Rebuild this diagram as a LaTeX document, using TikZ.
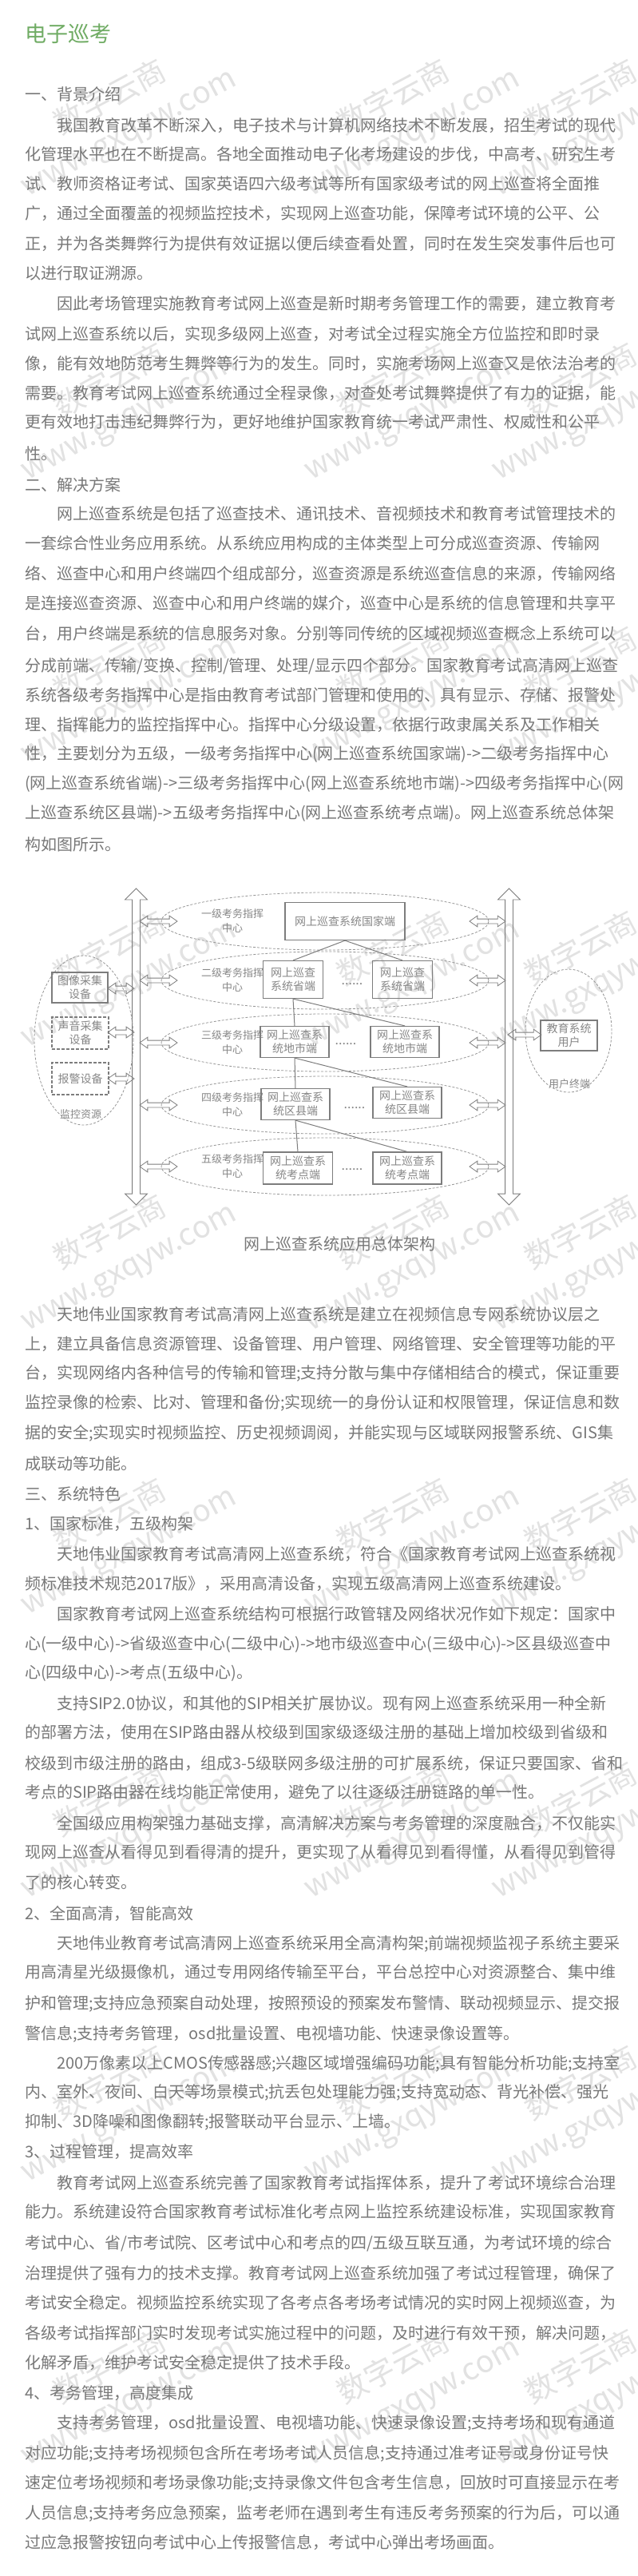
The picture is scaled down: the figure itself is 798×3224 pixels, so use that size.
\documentclass[tikz,border=0pt]{standalone}
\usepackage{fontspec}
\setmainfont{Noto Sans CJK SC}
\usepackage{xcolor}
\usepackage{tikz}
\usetikzlibrary{shapes,positioning,calc,arrows.meta}

\definecolor{txtgray}{RGB}{120,120,120}
\definecolor{titlegreen}{RGB}{112,172,100}
\definecolor{linegray}{RGB}{125,125,125}
\definecolor{ringgray}{RGB}{150,150,150}
\definecolor{boxtext}{RGB}{135,135,135}
\definecolor{markgray}{RGB}{226,226,226}

\tikzset{
  body/.style={anchor=west, inner sep=0pt, text=txtgray, font=\fontsize{20}{24}\selectfont, text height=17.6pt, text depth=2.4pt},
  head/.style={body, text=titlegreen, font=\fontsize{27}{30}\selectfont, text height=23.8pt, text depth=3.2pt},
  box/.style={draw=linegray, line width=1.2pt, inner sep=0pt, align=center, text=boxtext, font=\fontsize{14}{17}\selectfont},
  dbox/.style={box, dash pattern=on 4pt off 2pt},
  ring/.style={draw=ringgray, dash pattern=on 3pt off 2pt, line width=0.8pt, ellipse, inner sep=0pt},
  wire/.style={draw=linegray, line width=1pt},
  lbl/.style={inner sep=0pt, align=center, text=boxtext, font=\fontsize{13}{18}\selectfont},
  bus/.style={double arrow, draw=linegray, line width=0.8pt, inner xsep=0pt, inner ysep=4.5pt, double arrow head extend=9pt, double arrow tip angle=90, rotate=90},
  link/.style={double arrow, draw=linegray, line width=0.8pt, inner xsep=0pt, inner ysep=2.5pt, double arrow head extend=4pt, double arrow tip angle=70},
  wmark/.style={rotate=28, align=center, text=markgray, font=\fontsize{38}{48}\selectfont, inner sep=0pt}
}

\begin{document}
\begin{tikzpicture}[x=1pt,y=1pt]
  \fill[white] (0,0) rectangle (798,-3224);
  \useasboundingbox (0,0) rectangle (798,-3224);

  % watermark
  \foreach \wx in {150,505,740}
    \foreach \wy in {145,500,855,1210,1565,1920,2275,2630,2985}
      \node[wmark] (wm\wx\wy) at (\wx,-\wy) {数字云商\\www.gxqyw.com};

  % 一、背景介绍
  \node[head] (title) at (31,-42) {电子巡考};
  \node[body] (t2) at (31,-118) {一、背景介绍};
  \node[body] (t3) at (71,-157) {我国教育改革不断深入，电子技术与计算机网络技术不断发展，招生考试的现代};
  \node[body] (t4) at (31,-193) {化管理水平也在不断提高。各地全面推动电子化考场建设的步伐，中高考、研究生考};
  \node[body] (t5) at (31,-230) {试、教师资格证考试、国家英语四六级考试等所有国家级考试的网上巡查将全面推};
  \node[body] (t6) at (31,-267) {广，通过全面覆盖的视频监控技术，实现网上巡查功能，保障考试环境的公平、公};
  \node[body] (t7) at (31,-305) {正，并为各类舞弊行为提供有效证据以便后续查看处置，同时在发生突发事件后也可};
  \node[body] (t8) at (31,-342) {以进行取证溯源。};
  \node[body] (t9) at (71,-380) {因此考场管理实施教育考试网上巡查是新时期考务管理工作的需要，建立教育考};
  \node[body] (t10) at (31,-418) {试网上巡查系统以后，实现多级网上巡查，对考试全过程实施全方位监控和即时录};
  \node[body] (t11) at (31,-455) {像，能有效地防范考生舞弊等行为的发生。同时，实施考场网上巡查又是依法治考的};
  \node[body] (t12) at (31,-492) {需要。教育考试网上巡查系统通过全程录像，对查处考试舞弊提供了有力的证据，能};
  \node[body] (t13) at (31,-528) {更有效地打击违纪舞弊行为，更好地维护国家教育统一考试严肃性、权威性和公平};
  \node[body] (t14) at (31,-568) {性。};

  % 二、解决方案
  \node[body] (t15) at (31,-607) {二、解决方案};
  \node[body] (t16) at (71,-643) {网上巡查系统是包括了巡查技术、通讯技术、音视频技术和教育考试管理技术的};
  \node[body] (t17) at (31,-680) {一套综合性业务应用系统。从系统应用构成的主体类型上可分成巡查资源、传输网};
  \node[body] (t18) at (31,-718) {络、巡查中心和用户终端四个组成部分，巡查资源是系统巡查信息的来源，传输网络};
  \node[body] (t19) at (31,-755) {是连接巡查资源、巡查中心和用户终端的媒介，巡查中心是系统的信息管理和共享平};
  \node[body] (t20) at (31,-793) {台，用户终端是系统的信息服务对象。分别等同传统的区域视频巡查概念上系统可以};
  \node[body] (t21) at (31,-833) {分成前端、传输/变换、控制/管理、处理/显示四个部分。国家教育考试高清网上巡查};
  \node[body] (t22) at (31,-870) {系统各级考务指挥中心是指由教育考试部门管理和使用的、具有显示、存储、报警处};
  \node[body] (t23) at (31,-907) {理、指挥能力的监控指挥中心。指挥中心分级设置，依据行政隶属关系及工作相关};
  \node[body] (t24) at (31,-943) {性，主要划分为五级，一级考务指挥中心(网上巡查系统国家端)->二级考务指挥中心};
  \node[body] (t25) at (31,-980) {(网上巡查系统省端)->三级考务指挥中心(网上巡查系统地市端)->四级考务指挥中心(网};
  \node[body] (t26) at (31,-1017) {上巡查系统区县端)->五级考务指挥中心(网上巡查系统考点端)。网上巡查系统总体架};
  \node[body] (t27) at (31,-1057) {构如图所示。};

  % 总体架构图
  \node[bus, minimum height=396] (busL) at (170.5,-1310) {};
  \node[bus, minimum height=396] (busR) at (637.5,-1310) {};
  \foreach \i/\y/\n in {1/1153/一,2/1227/二,3/1305/三,4/1383/四,5/1460/五}{
    \node[ring, minimum width=410, minimum height=72] (lv\i) at (407,-\y) {};
    \node[lbl] (cmd\i) at (291,-\y) {\n{}级考务指挥\\中心};
    \node[link, minimum height=47] (ar\i) at (198.5,-\y) {};
    \node[link, minimum height=45] (ay\i) at (610.5,-\y) {};
  }
  \node[box, minimum width=150, minimum height=47] (nat) at (432,-1153) {网上巡查系统国家端};
  \node[box, minimum width=75, minimum height=47] (p1) at (367,-1226) {网上巡查\\系统省端};
  \node[box, minimum width=75, minimum height=47] (p2) at (504,-1226) {网上巡查\\系统省端};
  \node[box, minimum width=86, minimum height=39] (c1) at (369,-1304) {网上巡查系\\统地市端};
  \node[box, minimum width=86, minimum height=39] (c2) at (507,-1304) {网上巡查系\\统地市端};
  \node[box, minimum width=86, minimum height=39] (d1) at (370,-1382) {网上巡查系\\统区县端};
  \node[box, minimum width=86, minimum height=39] (d2) at (510,-1380) {网上巡查系\\统区县端};
  \node[box, minimum width=87, minimum height=40] (s1) at (373,-1462) {网上巡查系\\统考点端};
  \node[box, minimum width=86, minimum height=40] (s2) at (510,-1462) {网上巡查系\\统考点端};
  \node[lbl, anchor=base, font=\fontsize{16}{16}\selectfont] (dot2) at (441,-1232) {......};
  \node[lbl, anchor=base, font=\fontsize{16}{16}\selectfont] (dot3) at (433,-1307) {......};
  \node[lbl, anchor=base, font=\fontsize{16}{16}\selectfont] (dot4) at (444,-1387) {......};
  \node[lbl, anchor=base, font=\fontsize{16}{16}\selectfont] (dot5) at (441,-1464) {......};
  \draw[wire] (nat.south) -- (p1.north);
  \draw[wire] (nat.south) -- (p2.north);
  \draw[wire] (p1.south) -- (c1.north);
  \draw[wire] (p1.south) -- (c2.north);
  \draw[wire] (c1.south) -- (d1.north);
  \draw[wire] (c1.south) -- (d2.north);
  \draw[wire] (d1.south) -- (s1.north);
  \draw[wire] (d1.south) -- (s2.north);

  % 监控资源
  \node[ring, minimum width=124, minimum height=212] (res) at (105,-1302) {};
  \node[box, minimum width=70, minimum height=38] (cam) at (100,-1236) {图像采集\\设备};
  \node[dbox, minimum width=71, minimum height=40] (mic) at (100.5,-1293) {声音采集\\设备};
  \node[dbox, minimum width=71, minimum height=40] (alm) at (100.5,-1350) {报警设备};
  \node[lbl] (resl) at (101,-1395) {监控资源};
  \node[link, minimum height=33] (am1) at (151.5,-1237) {};
  \node[link, minimum height=33] (am2) at (151.5,-1292) {};
  \node[link, minimum height=33] (am3) at (151.5,-1350) {};

  % 用户终端
  \node[ring, minimum width=108, minimum height=154] (usr) at (712,-1290) {};
  \node[box, minimum width=71, minimum height=38] (edu) at (712.5,-1296) {教育系统\\用户};
  \node[lbl] (usrl) at (713,-1357) {用户终端};
  \node[link, minimum height=42] (au) at (657,-1295) {};

  \node[body, anchor=center] (cap) at (425,-1557) {网上巡查系统应用总体架构};

  \node[body] (t29) at (71,-1645) {天地伟业国家教育考试高清网上巡查系统是建立在视频信息专网系统协议层之};
  \node[body] (t30) at (31,-1682) {上，建立具备信息资源管理、设备管理、用户管理、网络管理、安全管理等功能的平};
  \node[body] (t31) at (31,-1718) {台，实现网络内各种信号的传输和管理;支持分散与集中存储相结合的模式，保证重要};
  \node[body] (t32) at (31,-1755) {监控录像的检索、比对、管理和备份;实现统一的身份认证和权限管理，保证信息和数};
  \node[body] (t33) at (31,-1793) {据的安全;实现实时视频监控、历史视频调阅，并能实现与区域联网报警系统、GIS集};
  \node[body] (t34) at (31,-1832) {成联动等功能。};

  % 三、系统特色
  \node[body] (t35) at (31,-1870) {三、系统特色};
  \node[body] (t36) at (31,-1907) {1、国家标准，五级构架};
  \node[body] (t37) at (71,-1945) {天地伟业国家教育考试高清网上巡查系统，符合《国家教育考试网上巡查系统视};
  \node[body] (t38) at (31,-1982) {频标准技术规范2017版》，采用高清设备，实现五级高清网上巡查系统建设。};
  \node[body] (t39) at (71,-2020) {国家教育考试网上巡查系统结构可根据行政管辖及网络状况作如下规定：国家中};
  \node[body] (t40) at (31,-2057) {心(一级中心)->省级巡查中心(二级中心)->地市级巡查中心(三级中心)->区县级巡查中};
  \node[body] (t41) at (31,-2093) {心(四级中心)->考点(五级中心)。};
  \node[body] (t42) at (71,-2132) {支持SIP2.0协议，和其他的SIP相关扩展协议。现有网上巡查系统采用一种全新};
  \node[body] (t43) at (31,-2168) {的部署方法，使用在SIP路由器从校级到国家级逐级注册的基础上增加校级到省级和};
  \node[body] (t44) at (31,-2207) {校级到市级注册的路由，组成3-5级联网多级注册的可扩展系统，保证只要国家、省和};
  \node[body] (t45) at (31,-2243) {考点的SIP路由器在线均能正常使用，避免了以往逐级注册链路的单一性。};
  \node[body] (t46) at (71,-2282) {全国级应用构架强力基础支撑，高清解决方案与考务管理的深度融合，不仅能实};
  \node[body] (t47) at (31,-2318) {现网上巡查从看得见到看得清的提升，更实现了从看得见到看得懂，从看得见到管得};
  \node[body] (t48) at (31,-2356) {了的核心转变。};
  \node[body] (t49) at (31,-2395) {2、全面高清，智能高效};
  \node[body] (t50) at (71,-2432) {天地伟业教育考试高清网上巡查系统采用全高清构架;前端视频监视子系统主要采};
  \node[body] (t51) at (31,-2468) {用高清星光级摄像机，通过专用网络传输至平台，平台总控中心对资源整合、集中维};
  \node[body] (t52) at (31,-2507) {护和管理;支持应急预案自动处理，按照预设的预案发布警情、联动视频显示、提交报};
  \node[body] (t53) at (31,-2545) {警信息;支持考务管理，osd批量设置、电视墙功能、快速录像设置等。};
  \node[body] (t54) at (71,-2582) {200万像素以上CMOS传感器感;兴趣区域增强编码功能;具有智能分析功能;支持室};
  \node[body] (t55) at (31,-2618) {内、室外、夜间、白天等场景模式;抗丢包处理能力强;支持宽动态、背光补偿、强光};
  \node[body] (t56) at (31,-2655) {抑制、3D降噪和图像翻转;报警联动平台显示、上墙。};
  \node[body] (t57) at (31,-2693) {3、过程管理，提高效率};
  \node[body] (t58) at (71,-2732) {教育考试网上巡查系统完善了国家教育考试指挥体系，提升了考试环境综合治理};
  \node[body] (t59) at (31,-2768) {能力。系统建设符合国家教育考试标准化考点网上监控系统建设标准，实现国家教育};
  \node[body] (t60) at (31,-2807) {考试中心、省/市考试院、区考试中心和考点的四/五级互联互通，为考试环境的综合};
  \node[body] (t61) at (31,-2845) {治理提供了强有力的技术支撑。教育考试网上巡查系统加强了考试过程管理，确保了};
  \node[body] (t62) at (31,-2882) {考试安全稳定。视频监控系统实现了各考点各考场考试情况的实时网上视频巡查，为};
  \node[body] (t63) at (31,-2920) {各级考试指挥部门实时发现考试实施过程中的问题，及时进行有效干预，解决问题，};
  \node[body] (t64) at (31,-2957) {化解矛盾，维护考试安全稳定提供了技术手段。};
  \node[body] (t65) at (31,-2995) {4、考务管理，高度集成};
  \node[body] (t66) at (71,-3032) {支持考务管理，osd批量设置、电视墙功能、快速录像设置;支持考场和现有通道};
  \node[body] (t67) at (31,-3070) {对应功能;支持考场视频包含所在考场考试人员信息;支持通过准考证号或身份证号快};
  \node[body] (t68) at (31,-3107) {速定位考场视频和考场录像功能;支持录像文件包含考生信息，回放时可直接显示在考};
  \node[body] (t69) at (31,-3145) {人员信息;支持考务应急预案，监考老师在遇到考生有违反考务预案的行为后，可以通};
  \node[body] (t70) at (31,-3182) {过应急报警按钮向考试中心上传报警信息，考试中心弹出考场画面。};
\end{tikzpicture}
\end{document}
